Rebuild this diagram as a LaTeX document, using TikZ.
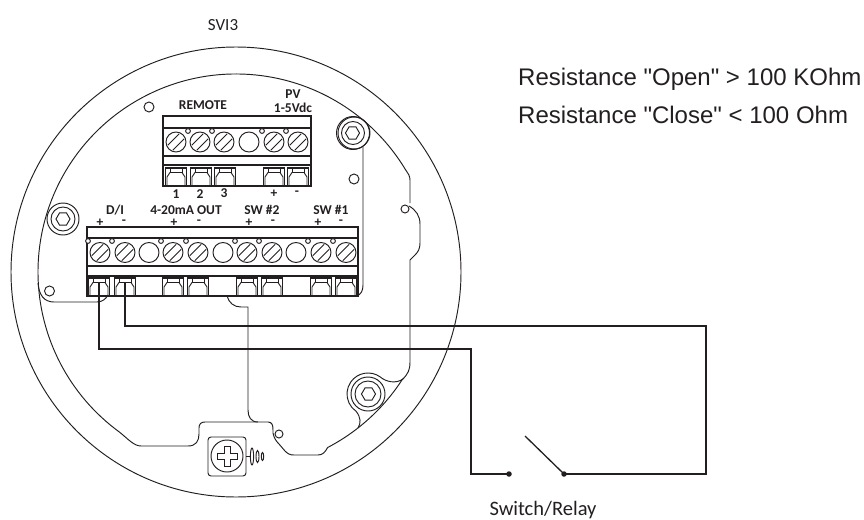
\documentclass[tikz,border=0pt]{standalone}
\usepackage{fontspec}
\setmainfont{Carlito}
\newfontfamily\arialfont{Liberation Sans}
\usetikzlibrary{calc}
\definecolor{ink}{RGB}{35,31,32}
\newcommand{\screwhead}[2]{%
  \draw[thinline] (#1,#2) circle[radius=10];
  \draw[thinline] (#1-8.2,#2+3.2) -- (#1+3.2,#2-8.2);
  \draw[thinline] (#1-3.2,#2+8.2) -- (#1+8.2,#2-3.2);
}
\newcommand{\terminal}[2]{%
  \draw[blockline] (#1-10.5,#2) rectangle (#1+10.5,#2+18);
  \draw[thinline] (#1-9,#2+18) -- (#1-9,#2+9) -- (#1-6,#2+4.5) -- (#1+6,#2+4.5) -- (#1+9,#2+9) -- (#1+9,#2+18);
  \draw[thinline] (#1-6,#2) -- (#1-6,#2+4.5) (#1+6,#2) -- (#1+6,#2+4.5);
}
\newcommand{\bolthex}[3]{%
  \draw[thinline] (#1+#3,#2) -- ++(-#3/2,{#3*0.866}) -- ++(-#3,0) -- ++(-#3/2,{-#3*0.866}) -- ++(#3/2,{-#3*0.866}) -- ++(#3,0) -- cycle;
}
\tikzset{
  thinline/.style={draw=ink,line width=0.95pt},
  blockline/.style={draw=ink,line width=1.3pt},
  wire/.style={draw=ink,line width=1.7pt,line join=miter},
  lab/.style={font=\bfseries\fontsize{13.5}{13.5}\selectfont,text=ink,inner sep=0pt},
  sign/.style={font=\bfseries\fontsize{13.5}{13.5}\selectfont,text=ink,inner sep=0pt},
  captext/.style={font=\fontsize{20.5}{20.5}\selectfont,text=ink,inner sep=0pt},
  note/.style={font=\arialfont\fontsize{24}{24}\selectfont,text=ink,inner sep=0pt,anchor=west},
  dotnode/.style={circle,fill=ink,inner sep=0pt,minimum size=5.5pt}
}
\begin{document}
\begin{tikzpicture}[x=1pt,y=-1pt]
\useasboundingbox (0,0) rectangle (864,519);
% housing
\draw[thinline] (236,272) circle[radius=225];
\draw[thinline] ([shift={(236,272)}]-31:198) arc[start angle=-31,end angle=-234,radius=198]
  .. controls (128,439) and (134,446) .. (141,446) -- (188,446)
  .. controls (196,446) and (199,441) .. (199,434) -- (199,428)
  .. controls (199,424) and (201,422) .. (205,422) -- (268,422)
  .. controls (272,422) and (273,425) .. (273,430) -- (273,433)
  .. controls (274,438) and (276,441) .. (279,444) -- (285,451)
  .. controls (288,454) and (290,455) .. (294,455) -- (318,455)
  .. controls (323,455) and (325,452) .. (328,447);
\draw[thinline] ([shift={(236,272)}]62.3:198) arc[start angle=62.3,end angle=33,radius=198]
  .. controls (408,374) and (410,370) .. (410,362) -- (410,260)
  -- (415,255) .. controls (418,252) and (420,249) .. (420,243) -- (420,224)
  .. controls (420,216) and (416,210) .. (409,206);
\draw[thinline] (410,203) -- (410,180) .. controls (410,176) and (408,173) .. ([shift={(236,272)}]-31:198);
\draw[thinline] (405,209) circle[radius=4];
% lower right boss
\draw[thinline] ([shift={(368,394)}]-55:21) arc[start angle=-55,end angle=-236,radius=21]
  .. controls (361,418) and (361,423) .. (358,428);
\draw[thinline] ([shift={(368,394)}]-55:21) .. controls (386,382) and (396,384) .. (403,379);
\draw[thinline] (368,394) circle[radius=17];
\draw[thinline] (368,394) circle[radius=13];
\bolthex{368.5}{394}{7}
% upper right bolt
\draw[thinline] (353,133) circle[radius=16.5];
\draw[thinline] (353,133) circle[radius=11.5];
\draw[thinline] (354,133) circle[radius=16];
\bolthex{352.5}{133}{7}
\draw[thinline] (363,147) -- (363,285) .. controls (363,291) and (361,294) .. (357,296);
% left bolt
\draw[thinline] (63,219) circle[radius=16];
\draw[thinline] (63,219) circle[radius=12];
\bolthex{63}{219}{7}
% left plate
\draw[thinline] (38,283) .. controls (39,295) and (44,302) .. (54,302) -- (97,302) .. controls (102,302) and (106,299) .. (108,295);
% small holes
\draw[thinline] (49.5,291) circle[radius=5];
\draw[thinline] (149,107) circle[radius=5];
\draw[thinline] (354,179) circle[radius=5];
\draw[thinline] (279,434) circle[radius=4];
% upper block
\draw[blockline] (163,116) rectangle (311,186);
\draw[blockline] (163,128) -- (311,128) (163,156) -- (311,156) (163,165) -- (311,165);
\foreach \x in {176,200,224,274,298} {\screwhead{\x}{142}}
\draw[thinline] (249,142) circle[radius=10];
\foreach \x in {188,212,262,286} {\draw[thinline,fill=white] (\x,131) circle[radius=2.4];}
\foreach \x in {176,201,225,274,298} {\terminal{\x}{168}}
% lower block
\draw[blockline] (87,227) rectangle (358,296);
\draw[blockline] (87,238) -- (358,238) (87,266) -- (358,266) (87,276) -- (358,276);
\foreach \x in {100,125,173,198,247,272,321,346} {\screwhead{\x}{252.5}}
\foreach \x in {149,223,296} {\draw[thinline] (\x,252.5) circle[radius=10];}
\foreach \x in {88,112,161,186,235,259,308,333} {\draw[thinline,fill=white] (\x,241) circle[radius=2.4];}
\foreach \x in {99,125,173,198,247,272,321,346} {\terminal{\x}{278}}
% thin centre wire
\draw[thinline] (227,296) .. controls (229,303) and (234,307) .. (241,307) -- (248,307) -- (248,410)
  .. controls (248,417) and (251,422) .. (258,422);
% ground screw
\draw[thinline,rounded corners=3pt] (208,437) rectangle (246,476);
\draw[thinline] (227,456) circle[radius=16];
\draw[thinline] (224,446) -- (230,446) -- (230,453) -- (237,453) -- (237,459) -- (230,459) -- (230,466) -- (224,466) -- (224,459) -- (217,459) -- (217,453) -- (224,453) -- cycle;
\draw[thinline] (246,456) -- (250,456);
\draw[thinline] (252,456.5) ellipse[x radius=1.6,y radius=8.5];
\draw[thinline] (257.5,456.5) ellipse[x radius=1.5,y radius=6];
\draw[thinline] (262.5,456.5) ellipse[x radius=1.2,y radius=4];
% switch and wiring
\node[dotnode] (swa) at (509,474) {};
\node[dotnode] (swb) at (564,474) {};
\coordinate (blade) at (525,436);
\coordinate (dip) at (99,282);
\coordinate (din) at (125,282);
\draw[wire] (dip) |- (471,349) |- (swa.center);
\draw[wire] (din) |- (706,326) |- (swb.center);
\draw[line width=1.3pt,draw=ink] (swb.center) -- (blade);
% labels
\node[lab] (t1) at (203,105) {REMOTE};
\node[lab] (t2) at (293,94) {PV};
\node[lab] (t3) at (293,107.5) {1-5Vdc};
\node[lab] (t4) at (176,194) {1};
\node[lab] (t5) at (200,194) {2};
\node[lab] (t6) at (224,193) {3};
\node[sign] (t7) at (274,194) {+};
\node[sign] (t8) at (297,193.5) {-};
\node[lab] (t9) at (115,210.5) {D/I};
\node[lab] (t10) at (186,210) {4-20mA OUT};
\node[lab] (t11) at (262,210) {SW \#2};
\node[lab] (t12) at (331,210) {SW \#1};
\node[sign] (p1) at (100,222.5) {+};
\node[sign] (m1) at (124,222.5) {-};
\node[sign] (p2) at (174,222.5) {+};
\node[sign] (m2) at (199,222.5) {-};
\node[sign] (p3) at (249,222.5) {+};
\node[sign] (m3) at (273,222.5) {-};
\node[sign] (p4) at (318,222.5) {+};
\node[sign] (m4) at (341,222.5) {-};
\node[font=\fontsize{17}{17}\selectfont,text=ink,inner sep=0pt] (svi) at (223,25) {SVI3};
\node[captext] (sw) at (543,510) {Switch/Relay};
\node[note] (n1) at (518,79) {Resistance "Open" > 100 KOhm};
\node[note] (n2) at (518,115) {Resistance "Close" < 100 Ohm};
\end{tikzpicture}
\end{document}
